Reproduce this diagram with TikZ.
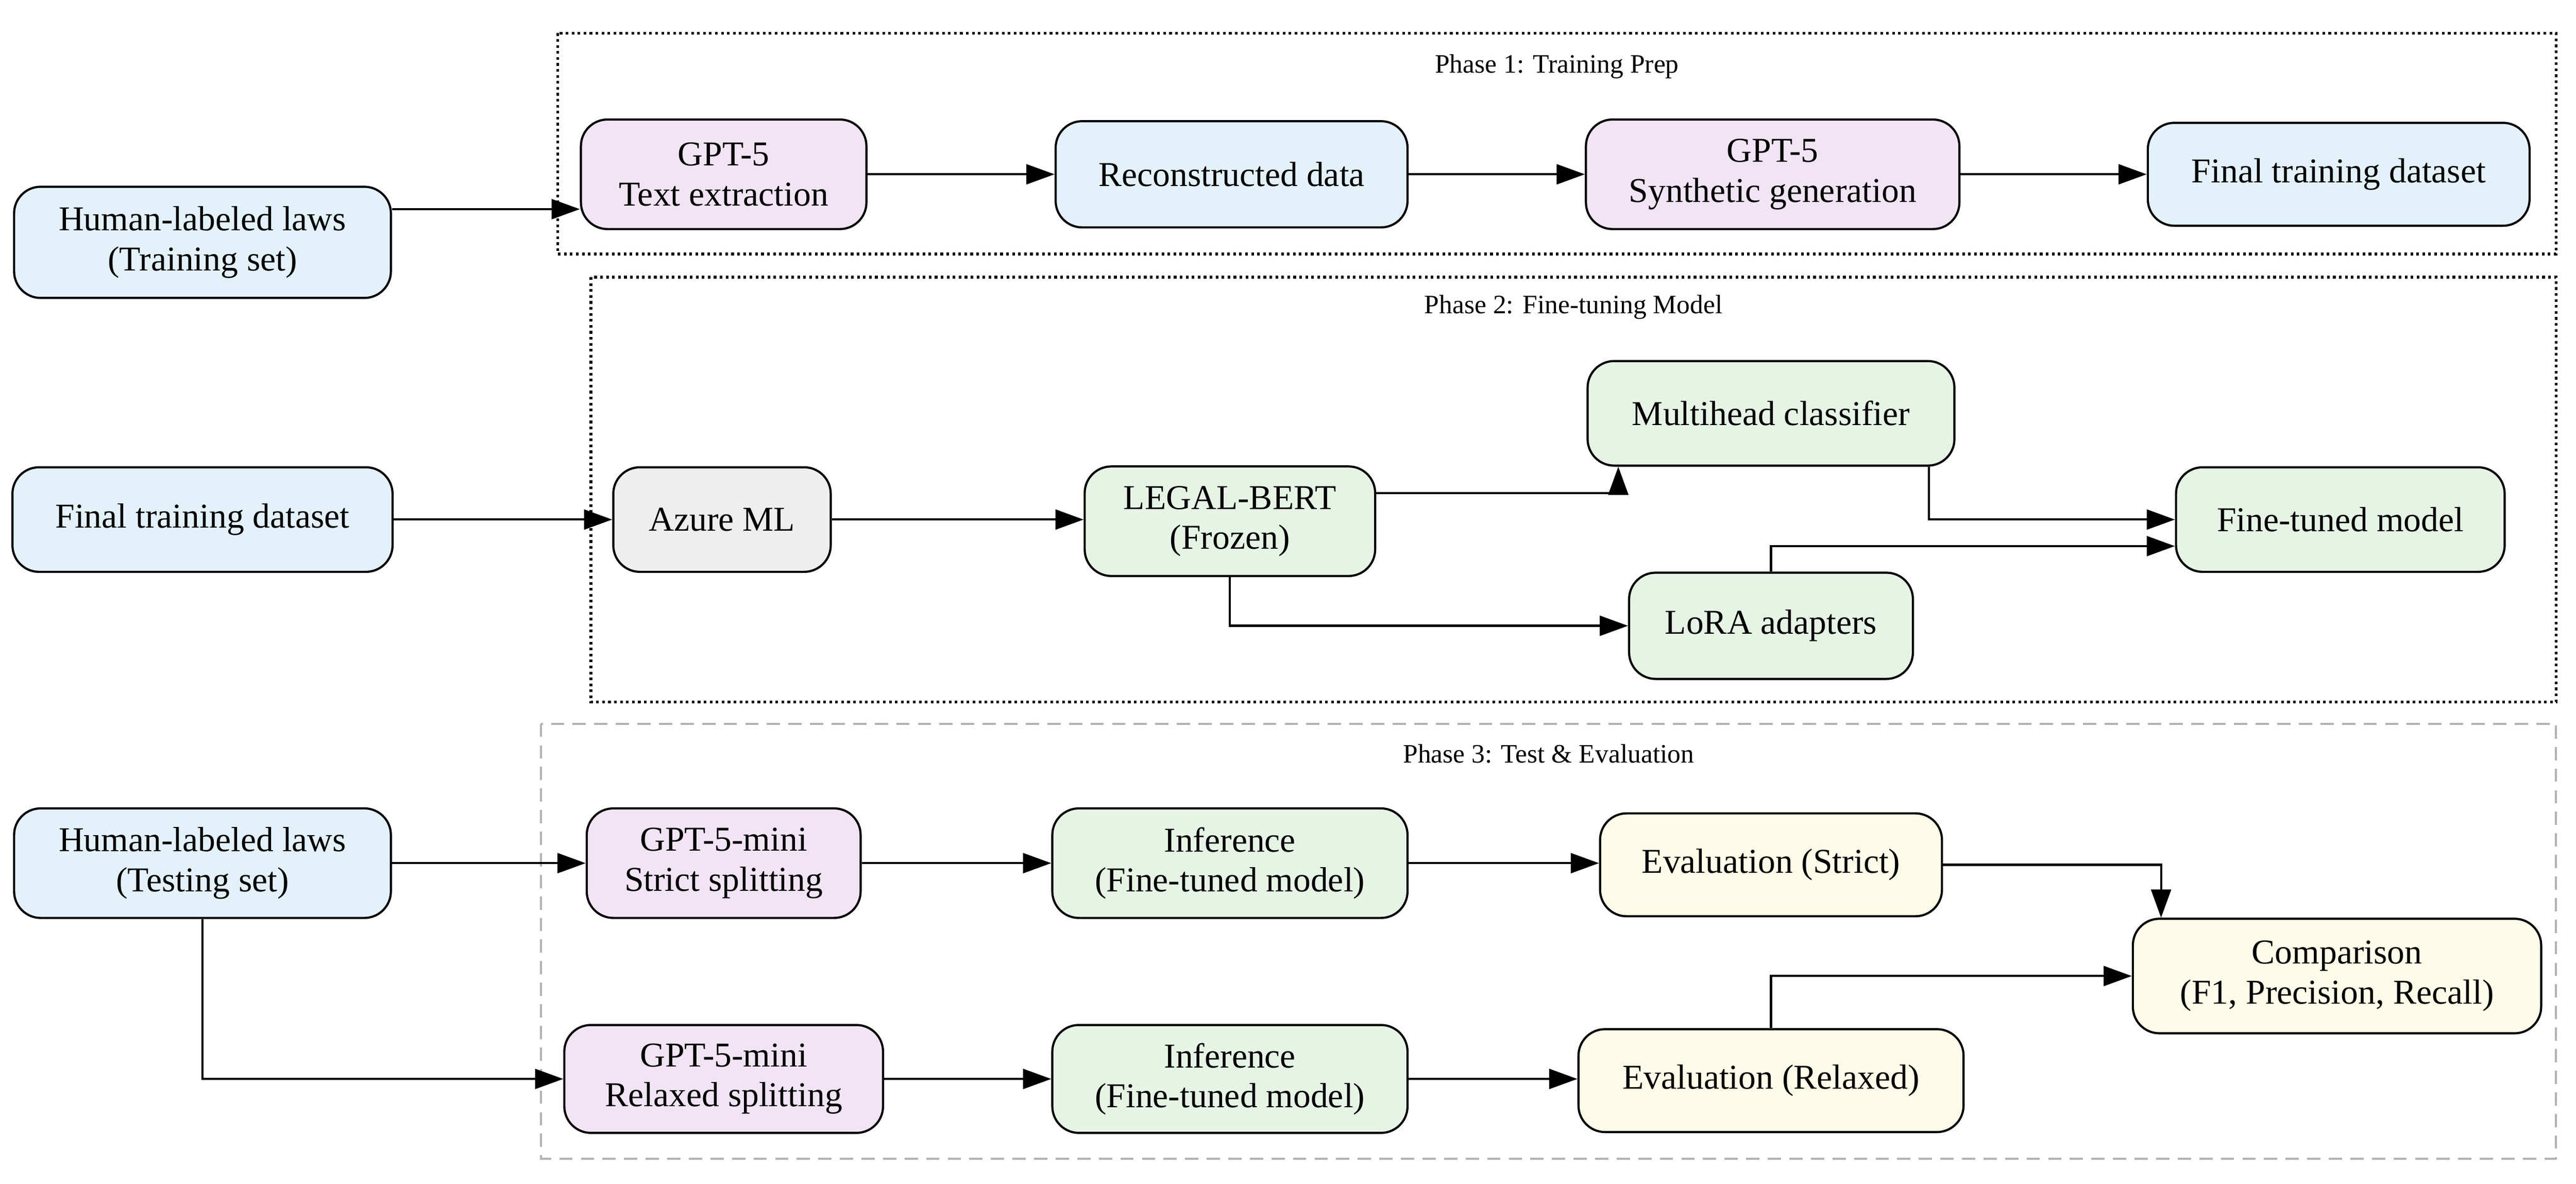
\documentclass[tikz,border=0pt]{standalone}
\usepackage{fontspec}
\setmainfont{Liberation Serif}
\usetikzlibrary{arrows.meta}

\definecolor{cblue}{HTML}{E3F1FB}
\definecolor{cpurple}{HTML}{F1E4F5}
\definecolor{cgreen}{HTML}{E6F4E6}
\definecolor{cgray}{HTML}{EEEEEE}
\definecolor{cyellow}{HTML}{FEFCE8}

\tikzset{
  box/.style={draw, line width=1.3pt, rounded corners=16pt, align=center,
    font=\fontsize{21}{24}\selectfont, inner sep=0pt},
  arr/.style={-{Triangle[length=17pt,width=12pt]}, line width=1.3pt},
  phase/.style={font=\fontsize{16}{19}\selectfont}
}

\begin{document}
\begin{tikzpicture}[x=1pt,y=1pt]
  \useasboundingbox (0,0) rectangle (1552,-713);

  % phase frames
  \draw[line width=1.6pt, dotted] (336,-20) rectangle (1540,-153);
  \node[phase] (p1) at (938,-40) {Phase 1: Training Prep};
  \draw[line width=1.6pt, dotted] (356,-167) rectangle (1540,-423);
  \node[phase] (p2) at (948,-185) {Phase 2: Fine-tuning Model};
  \draw[line width=1.2pt, gray!60, dash pattern=on 8pt off 5pt] (326,-436) rectangle (1540,-698);
  \node[phase] (p3) at (933,-454) {Phase 3: Test \& Evaluation};

  % phase 1
  \node[box, fill=cblue, minimum width=227, minimum height=67] (htrain) at (122,-146) {Human-labeled laws\\(Training set)};
  \node[box, fill=cpurple, minimum width=172, minimum height=66] (gptext) at (436,-105) {GPT-5\\Text extraction};
  \node[box, fill=cblue, minimum width=212, minimum height=64] (recon) at (742,-105) {Reconstructed data};
  \node[box, fill=cpurple, minimum width=225, minimum height=66] (gptsyn) at (1068,-105) {GPT-5\\Synthetic generation};
  \node[box, fill=cblue, minimum width=230, minimum height=62] (final) at (1409,-105) {Final training dataset};

  \draw[arr] ([yshift=20pt]htrain.east) -- ([yshift=20pt]htrain.east -| gptext.west);
  \draw[arr] (gptext) -- (recon);
  \draw[arr] (recon) -- (gptsyn);
  \draw[arr] (gptsyn) -- (final);

  % phase 2
  \node[box, fill=cblue, minimum width=229, minimum height=63] (ftrain) at (122,-313) {Final training dataset};
  \node[box, fill=cgray, minimum width=131, minimum height=63] (azure) at (435,-313) {Azure ML};
  \node[box, fill=cgreen, minimum width=175, minimum height=66] (bert) at (741,-314) {LEGAL-BERT\\(Frozen)};
  \node[box, fill=cgreen, minimum width=221, minimum height=63] (multi) at (1067,-249) {Multihead classifier};
  \node[box, fill=cgreen, minimum width=171, minimum height=64] (lora) at (1067,-377) {LoRA adapters};
  \node[box, fill=cgreen, minimum width=198, minimum height=63] (tuned) at (1410,-313) {Fine-tuned model};

  \draw[arr] (ftrain) -- (azure);
  \draw[arr] (azure) -- (bert.west |- azure);
  \draw[arr] ([yshift=17pt]bert.east) -| ([xshift=-92pt]multi.south);
  \draw[arr] (bert.south) |- (lora.west);
  \draw[arr] ([xshift=95pt]multi.south) |- (tuned.west);
  \draw[arr] (lora.north) |- ([yshift=-16pt]tuned.west);

  % phase 3
  \node[box, fill=cblue, minimum width=227, minimum height=66] (htest) at (122,-520) {Human-labeled laws\\(Testing set)};
  \node[box, fill=cpurple, minimum width=165, minimum height=66] (strict) at (436,-520) {GPT-5-mini\\Strict splitting};
  \node[box, fill=cgreen, minimum width=214, minimum height=66] (infa) at (741,-520) {Inference\\(Fine-tuned model)};
  \node[box, fill=cyellow, minimum width=206, minimum height=62] (evals) at (1067,-521) {Evaluation (Strict)};
  \node[box, fill=cyellow, minimum width=246, minimum height=69] (comp) at (1408,-588) {Comparison\\(F1, Precision, Recall)};
  \node[box, fill=cpurple, minimum width=192, minimum height=65] (relaxed) at (436,-650) {GPT-5-mini\\Relaxed splitting};
  \node[box, fill=cgreen, minimum width=214, minimum height=65] (infb) at (741,-650) {Inference\\(Fine-tuned model)};
  \node[box, fill=cyellow, minimum width=232, minimum height=62] (evalr) at (1067,-651) {Evaluation (Relaxed)};

  \draw[arr] (htest) -- (strict);
  \draw[arr] (htest.south) |- (relaxed.west);
  \draw[arr] (strict) -- (infa);
  \draw[arr] (infa) -- (evals.west |- infa);
  \draw[arr] (evals.east) -| ([xshift=-106pt]comp.north);
  \draw[arr] (relaxed) -- (infb);
  \draw[arr] (infb) -- (evalr.west |- infb);
  \draw[arr] (evalr.north) |- (comp.west);
\end{tikzpicture}
\end{document}
